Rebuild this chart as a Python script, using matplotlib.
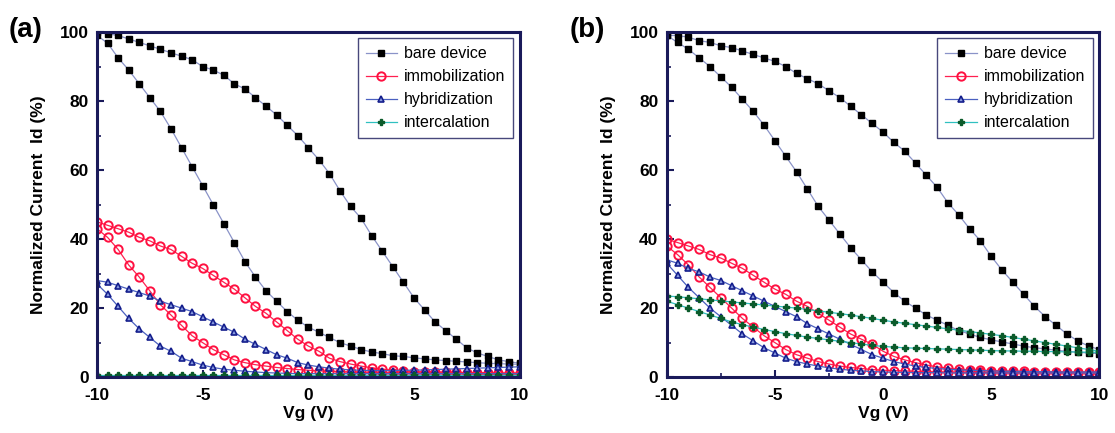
import numpy as np
import matplotlib
matplotlib.use("Agg")
import matplotlib.pyplot as plt
from matplotlib.ticker import MultipleLocator

plt.rcParams['font.family'] = ['Liberation Sans', 'DejaVu Sans']
plt.rcParams['font.weight'] = 'bold'
plt.rcParams['axes.unicode_minus'] = False

vg = np.arange(-10, 10.01, 0.5)

# ---- panel (a) ----
a_bare_up = [100, 99.5, 99, 98, 97, 96, 95, 94, 93, 92, 90, 89, 87.5, 85, 83.5, 81, 78.5, 76, 73, 70,
             66.5, 63, 59, 54, 49.5, 46, 41, 36.5, 32, 27.5, 23, 19.5, 16, 13.5, 11, 8.5, 7, 6, 5, 4.5, 4]
a_bare_dn = [99, 96.8, 92.5, 89, 85, 81, 77, 72, 66.5, 61, 55.5, 50, 44.5, 39, 33.5, 29, 25, 22, 19, 16.5,
             14.5, 13, 11.5, 10, 9, 8, 7.3, 6.8, 6.2, 6, 5.6, 5.3, 5, 4.8, 4.6, 4.4, 4.2, 4, 3.9, 3.8, 3.7]
a_imm_up = [45, 44, 43, 42, 40.5, 39.5, 38, 37, 35, 33, 31.5, 29.5, 27.5, 25.5, 23, 20.5, 18.5, 16, 13.5, 11,
            9, 7.5, 5.5, 4.5, 3.8, 3.2, 2.7, 2.3, 2, 1.8, 1.6, 1.5, 1.5, 1.4, 1.4, 1.3, 1.3, 1.3, 1.2, 1.2, 1.2]
a_imm_dn = [43, 40.5, 37, 32.5, 29, 25, 21, 18, 15, 12, 10, 8, 6.5, 5, 4.2, 3.6, 3.2, 2.8, 2.5, 2.2,
            2, 1.8, 1.7, 1.6, 1.5, 1.4, 1.4, 1.3, 1.3, 1.2, 1.2, 1.1, 1.1, 1.1, 1.1, 1, 1, 1, 1, 1, 1]
a_hyb_up = [28, 27.5, 26.5, 25.5, 24.5, 23.5, 22, 21, 20, 19, 17.5, 16, 14.5, 13, 11, 9.5, 8, 6.5, 5.5, 4.2,
            3.5, 3, 2.6, 2.3, 2.1, 2, 1.9, 1.9, 1.9, 2, 2, 2.1, 2.2, 2.3, 2.4, 2.5, 2.6, 2.7, 2.8, 2.9, 3]
a_hyb_dn = [27, 24, 20.5, 17, 14, 11.5, 9, 7.5, 5.5, 4.5, 3.5, 2.8, 2.3, 2, 1.7, 1.5, 1.3, 1.2, 1.1, 1,
            1, 1, 1, 1, 1, 1, 1, 1, 1, 1, 1, 1, 1, 1, 1, 1, 1, 1, 1, 1, 1]
a_int_up = [0.6] * 41
a_int_dn = [0.4] * 41

# ---- panel (b) ----
b_bare_up = [99, 99, 98.5, 97.5, 97, 96, 95.5, 94.5, 93.5, 92.5, 91.5, 90, 88, 86.5, 85, 83, 81, 78.5, 76, 73.5,
             71, 68, 65.5, 62, 58.5, 55, 50.5, 47, 43, 39.5, 35, 31, 27.5, 24, 20.5, 17.5, 15, 12.5, 10.5, 9, 8]
b_bare_dn = [99, 97, 95, 92.5, 90, 87, 84, 80.5, 77, 73, 68.5, 64, 59.5, 54.5, 49.5, 45.5, 41.5, 37.5, 34, 30.5,
             27.5, 24.5, 22, 20, 18, 16.5, 15, 13.5, 12.5, 11.5, 10.8, 10.2, 9.6, 9, 8.5, 8.2, 7.8, 7.5, 7.2, 7, 6.8]
b_imm_up = [40, 39, 38, 37, 35.5, 34.5, 33, 31.5, 29.5, 27.5, 25.5, 24, 22, 20.5, 18.5, 16.5, 14.5, 12.5, 11, 9.5,
            7.5, 6, 5, 4.2, 3.5, 3, 2.6, 2.3, 2.1, 2, 1.9, 1.8, 1.7, 1.7, 1.6, 1.6, 1.6, 1.5, 1.5, 1.5, 1.5]
b_imm_dn = [38, 35.5, 32.5, 29, 26, 23, 20, 17, 14.5, 12, 10, 8, 6.5, 5.5, 4.5, 3.8, 3.2, 2.8, 2.5, 2.2,
            2, 1.9, 1.8, 1.7, 1.6, 1.5, 1.5, 1.4, 1.4, 1.4, 1.3, 1.3, 1.3, 1.3, 1.3, 1.3, 1.3, 1.3, 1.3, 1.3, 1.3]
b_hyb_up = [34, 33, 31.5, 30.5, 29, 28, 26.5, 25, 23.5, 22, 20.5, 19, 17.5, 15.5, 14, 12.5, 11, 9.5, 8, 6.5,
            5.5, 4.5, 3.8, 3.2, 2.8, 2.5, 2.3, 2.1, 2, 1.9, 1.8, 1.7, 1.7, 1.6, 1.6, 1.6, 1.5, 1.5, 1.5, 1.5, 1.5]
b_hyb_dn = [33, 29.5, 26, 23, 20, 17.5, 15, 12.5, 10.5, 8.5, 7, 5.5, 4.5, 3.8, 3.2, 2.7, 2.3, 2, 1.8, 1.6,
            1.5, 1.4, 1.4, 1.3, 1.3, 1.3, 1.2, 1.2, 1.2, 1.2, 1.2, 1.2, 1.2, 1.2, 1.2, 1.2, 1.2, 1.2, 1.2, 1.2, 1.2]
b_int_up = [23.5, 23.3, 23, 22.7, 22.4, 22.1, 21.8, 21.5, 21.2, 20.9, 20.6, 20.3, 20, 19.6, 19.2, 18.8, 18.4, 18, 17.5, 17,
            16.5, 16, 15.6, 15.2, 14.8, 14.4, 14, 13.6, 13.2, 12.8, 12.4, 12, 11.5, 11, 10.5, 10, 9.5, 9, 8.5, 8, 7.5]
b_int_dn = [22, 21, 20, 19, 18, 17, 16, 15.2, 14.5, 13.8, 13.2, 12.6, 12.1, 11.6, 11.2, 10.8, 10.4, 10, 9.6, 9.2,
            8.9, 8.7, 8.5, 8.4, 8.3, 8.2, 8.1, 8, 7.9, 7.8, 7.7, 7.6, 7.6, 7.5, 7.5, 7.4, 7.4, 7.3, 7.3, 7.2, 7.2]

labels = ["bare device", "immobilization", "hybridization", "intercalation"]

NAVY = "#1a1a5a"
styles = [
    dict(marker="s", color="#8a93c8", mfc="black", mec="black", ms=4.8, lw=0.9),
    dict(marker="o", color="#ff2050", mfc="none", mec="#ff1040", ms=6.0, mew=1.4, lw=0.9),
    dict(marker="^", color="#4a60c0", mfc="#8a9ce0", mec="#141e8c", ms=5.0, mew=1.2, lw=0.9),
    dict(marker="P", color="#30c0c0", mfc="#0a5a2a", mec="#0a5a2a", ms=4.5, lw=0.9),
]

fig = plt.figure(figsize=(11.15, 4.33), dpi=100)
ax_a = fig.add_axes([0.087, 0.129, 0.379, 0.797])
ax_b = fig.add_axes([0.598, 0.129, 0.388, 0.797])

panels = [
    (ax_a, "(a)", 0.008, [(a_bare_up, a_bare_dn), (a_imm_up, a_imm_dn), (a_hyb_up, a_hyb_dn), (a_int_up, a_int_dn)]),
    (ax_b, "(b)", 0.511, [(b_bare_up, b_bare_dn), (b_imm_up, b_imm_dn), (b_hyb_up, b_hyb_dn), (b_int_up, b_int_dn)]),
]

for ax, tag, tag_x, series in panels:
    for (up, dn), lab, st in zip(series, labels, styles):
        ax.plot(vg, up, label=lab, **st)
        ax.plot(vg, dn, **st)
    ax.set_xlim(-10, 10)
    ax.set_ylim(0, 100)
    ax.xaxis.set_major_locator(MultipleLocator(5))
    ax.xaxis.set_minor_locator(MultipleLocator(2.5))
    ax.yaxis.set_major_locator(MultipleLocator(20))
    ax.yaxis.set_minor_locator(MultipleLocator(10))
    ax.tick_params(which="both", direction="in", top=False, right=False, color=NAVY,
                   labelsize=12.5)
    ax.tick_params(axis="x", pad=8)
    ax.tick_params(axis="y", pad=6)
    ax.tick_params(which="major", length=5, width=1.5)
    ax.tick_params(which="minor", length=3, width=1.2)
    for lbl in ax.get_xticklabels() + ax.get_yticklabels():
        lbl.set_fontweight("bold")
    for sp in ax.spines.values():
        sp.set_color(NAVY)
        sp.set_linewidth(2.2)
    ax.set_xlabel("Vg (V)", fontsize=12.5, fontweight="bold", labelpad=2)
    ax.set_ylabel("Normalized Current  Id (%)", fontsize=12.5, fontweight="bold", labelpad=10)
    leg = ax.legend(loc="upper right", fontsize=11.5, frameon=True, fancybox=False,
                    borderpad=0.5, labelspacing=0.5, handlelength=2.0, handletextpad=0.4,
                    borderaxespad=0.4)
    leg.get_frame().set_edgecolor(NAVY)
    leg.get_frame().set_linewidth(1.0)
    for t in leg.get_texts():
        t.set_fontweight("normal")
    fig.text(tag_x, 0.93, tag, fontsize=20, fontweight="bold", ha="left", va="center")

fig.savefig("out.png", dpi=100)
